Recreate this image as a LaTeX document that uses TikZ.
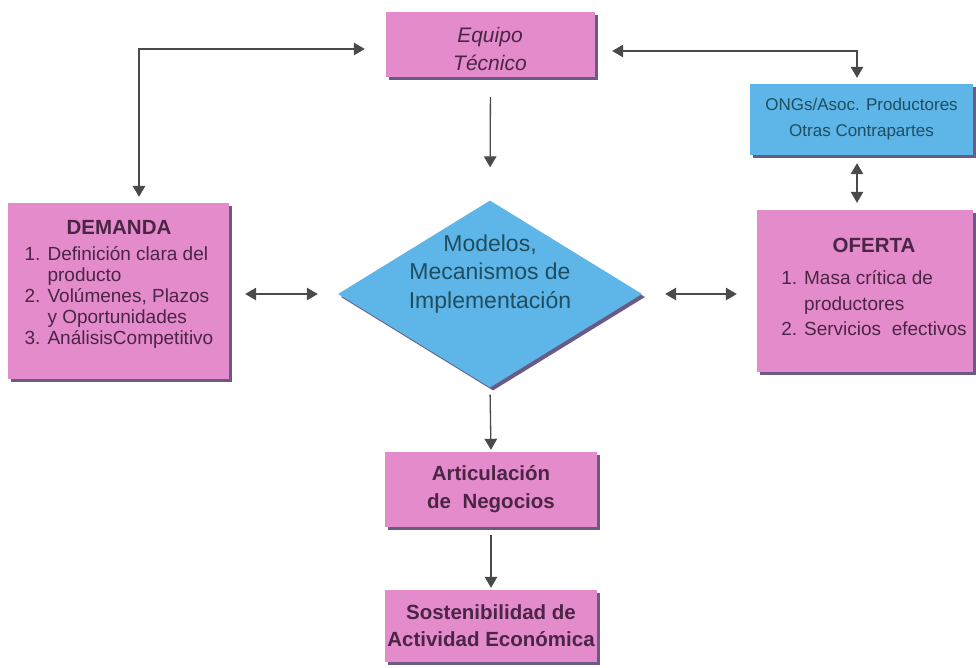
\documentclass[tikz,border=0pt]{standalone}
\usepackage{fontspec}
\setmainfont{Liberation Sans}
\usetikzlibrary{shapes.geometric,arrows.meta,shadows}
\definecolor{pinkf}{HTML}{E48BCB}
\definecolor{bluef}{HTML}{5DB5E8}
\definecolor{shad}{HTML}{6A5A86}
\definecolor{pinktxt}{HTML}{4A2545}
\definecolor{bluetxt}{HTML}{1F4E5F}
\definecolor{arrc}{HTML}{4A4A4A}
\begin{document}
\begin{tikzpicture}[x=1pt,y=-1pt,
  pbox/.style={fill=pinkf, draw=none, inner sep=0pt, align=center, text=pinktxt,
    drop shadow={shadow xshift=3pt, shadow yshift=-3pt, fill=shad, opacity=1}},
  bbox/.style={fill=bluef, draw=none, inner sep=0pt, align=center, text=bluetxt,
    drop shadow={shadow xshift=3pt, shadow yshift=-3pt, fill=shad, opacity=1}},
  ptext/.style={inner sep=0pt, text=pinktxt, align=center},
  arr/.style={draw=arrc, line width=1.3pt, -{Triangle[length=11pt,width=12.5pt]}},
  dbl/.style={draw=arrc, line width=1.3pt, {Triangle[length=11pt,width=12.5pt]}-{Triangle[length=11pt,width=12.5pt]}},
]
\useasboundingbox[fill=white] (0,0) rectangle (976,667);

% boxes
\node[pbox, minimum width=209pt, minimum height=65pt] (eq) at (490.5,44.5) {};
\node[ptext, font=\fontsize{21}{28}\selectfont\itshape] (eqt) at (490,49) {Equipo\\Técnico};

\node[bbox, minimum width=223pt, minimum height=71pt,
      font=\fontsize{17}{26}\selectfont] (ong) at (861.5,119.5) {ONGs/Asoc. Productores\\Otras Contrapartes};

\node[pbox, minimum width=221pt, minimum height=176pt] (dem) at (118.5,291) {};
\node[ptext, font=\fontsize{19}{21}\selectfont] (demt) at (119,285) {%
  \begin{tabular}{@{}r@{ }l@{}}
  \multicolumn{2}{c}{\fontsize{20.5}{24}\selectfont\bfseries DEMANDA}\\[5pt]
  1.& Definición clara del\\
    & producto\\
  2.& Volúmenes, Plazos\\
    & y Oportunidades\\
  3.& AnálisisCompetitivo
  \end{tabular}};

\node[pbox, minimum width=216pt, minimum height=162pt] (ofe) at (865,291) {};
\node[ptext, font=\fontsize{19}{25.5}\selectfont] (ofet) at (874,289) {%
  \begin{tabular}{@{}r@{ }l@{}}
  \multicolumn{2}{c}{\fontsize{20.5}{24}\selectfont\bfseries OFERTA}\\[7pt]
  1.& Masa crítica de\\
    & productores\\
  2.& Servicios\ \ efectivos
  \end{tabular}};

\node[shape=diamond, fill=bluef, inner sep=0pt, minimum width=304pt, minimum height=187pt,
      drop shadow={shadow xshift=3pt, shadow yshift=-3pt, fill=shad, opacity=1}] (dia) at (490,294) {};
\node[inner sep=0pt, text=bluetxt, align=center, font=\fontsize{23}{28.5}\selectfont] (diat) at (490,274) {Modelos,\\Mecanismos\ de\\Implementación};

\node[pbox, minimum width=212pt, minimum height=75pt,
      font=\fontsize{20.5}{28}\selectfont\bfseries] (art) at (491,489.5) {Articulación\\de\ \ Negocios};
\node[pbox, minimum width=212pt, minimum height=72pt,
      font=\fontsize{20.5}{27}\selectfont\bfseries] (sos) at (491,626) {Sostenibilidad\ de\\Actividad Económica};

% connectors
\coordinate (tl) at (139,49);
\coordinate (tr) at (857,51);
\draw[dbl, shorten <=21pt, shorten >=6pt] (eq.west|-tl) -- (tl) -- (dem.north-|tl);
\draw[dbl, shorten <=17pt, shorten >=6pt] (eq.east|-tr) -- (tr) -- (ong.north-|tr);
\draw[arr, shorten <=20pt, shorten >=33pt] (eq.south) -- (dia.north);
\draw[dbl, shorten <=16pt, shorten >=20pt] (dem.east|-dia.west) -- (dia.west);
\draw[dbl, shorten <=23pt, shorten >=20pt] (dia.east) -- (ofe.west|-dia.east);
\draw[dbl, shorten <=8pt, shorten >=7pt] (ong.south-|tr) -- (ofe.north-|tr);
\draw[arr, shorten <=7pt, shorten >=2pt] (dia.south) -- (art.north);
\draw[arr, shorten <=8pt, shorten >=2pt] (art.south) -- (sos.north);
\end{tikzpicture}
\end{document}
